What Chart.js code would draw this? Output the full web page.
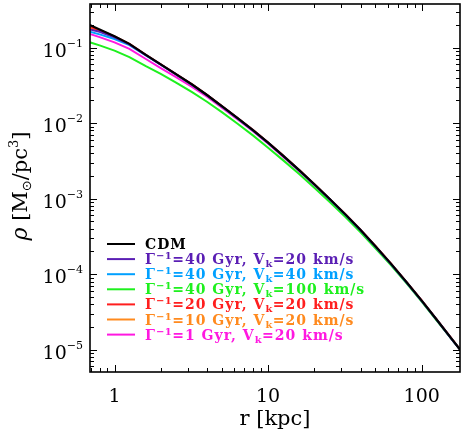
<!DOCTYPE html>
<html><head><meta charset="utf-8">
<script src="https://cdn.jsdelivr.net/npm/chart.js@4/dist/chart.umd.min.js"></script>
<style>html,body{margin:0;padding:0;background:#fff}#wrap{width:463px;height:436px}</style>
</head><body><div id="wrap"><canvas id="c" width="463" height="436"></canvas></div>
<script>
// radius grid [kpc]
const radii = [0.69, 0.8, 1, 1.25, 1.6, 2, 2.5, 3.2, 4, 5, 6.3, 8, 10, 12.5, 16, 20, 25, 32, 40, 50, 63, 80, 100, 125, 160, 178];
// density [Msun/pc^3]
const rhoCDM     = [0.200, 0.1738, 0.1413, 0.1122, 0.0804, 0.0600, 0.0449, 0.0325, 0.0236, 0.0168, 0.01175, 0.00804, 0.00552, 0.00372, 0.00237, 0.00155, 1.005e-3, 6.14e-4, 3.85e-4, 2.34e-4, 1.38e-4, 7.76e-5, 4.47e-5, 2.51e-5, 1.32e-5, 1.0e-5];
const rhoG40V20  = [0.174, 0.162, 0.137, 0.1105, 0.0797, 0.0596, 0.0446, 0.0323, 0.0235, 0.0167, 0.0117, 0.0080, 0.0055, 0.00370, 0.00236, 0.00154, 1.0e-3, 6.11e-4, 3.83e-4, 2.33e-4, 1.37e-4, 7.72e-5, 4.45e-5, 2.50e-5, 1.31e-5, 1.0e-5];
const rhoG40V40  = [0.163, 0.150, 0.130, 0.1083, 0.0792, 0.0594, 0.0445, 0.0322, 0.0234, 0.01665, 0.01165, 0.00797, 0.00547, 0.00369, 0.00235, 0.00154, 9.97e-4, 6.09e-4, 3.82e-4, 2.32e-4, 1.37e-4, 7.70e-5, 4.44e-5, 2.50e-5, 1.31e-5, 1.0e-5];
const rhoG40V100 = [0.1178, 0.1072, 0.0913, 0.0750, 0.0569, 0.0450, 0.0348, 0.0258, 0.0192, 0.0140, 0.00988, 0.00684, 0.00474, 0.00324, 0.00211, 0.00140, 9.17e-4, 5.67e-4, 3.59e-4, 2.21e-4, 1.32e-4, 7.5e-5, 4.35e-5, 2.45e-5, 1.31e-5, 1.0e-5];
const rhoG20V20  = [0.190, 0.170, 0.1405, 0.1122, 0.0806, 0.0603, 0.0451, 0.0327, 0.0238, 0.0169, 0.0118, 0.00810, 0.00556, 0.00375, 0.00239, 0.00156, 1.01e-3, 6.18e-4, 3.88e-4, 2.36e-4, 1.39e-4, 7.80e-5, 4.50e-5, 2.53e-5, 1.33e-5, 1.0e-5];
const rhoG10V20  = [0.180, 0.166, 0.139, 0.1115, 0.0800, 0.0598, 0.0447, 0.0324, 0.0235, 0.0167, 0.0117, 0.0080, 0.0055, 0.00371, 0.00236, 0.00155, 1.0e-3, 6.12e-4, 3.84e-4, 2.33e-4, 1.375e-4, 7.74e-5, 4.46e-5, 2.50e-5, 1.32e-5, 1.0e-5];
const rhoG1V20   = [0.1518, 0.1380, 0.1176, 0.0966, 0.0708, 0.0537, 0.0409, 0.0303, 0.0224, 0.0160, 0.01127, 0.00775, 0.00533, 0.00359, 0.00229, 0.00150, 9.78e-4, 6.0e-4, 3.76e-4, 2.30e-4, 1.365e-4, 7.69e-5, 4.44e-5, 2.51e-5, 1.32e-5, 1.0e-5];

const seriesValues = [rhoCDM, rhoG40V20, rhoG40V40, rhoG40V100, rhoG20V20, rhoG10V20, rhoG1V20];
const gammaInv = [null, '40', '40', '40', '20', '10', '1'];
const vKick    = [null, '20', '40', '100', '20', '20', '20'];
const colors   = ['#000000', '#5a1eb4', '#00a0ff', '#1ef01e', '#ff1e1e', '#ff8a1e', '#ff18e0'];
const xTickValues = [1, 10, 100];
const xTickLabels = ['1', '10', '100'];
const yTickExponents = [-1, -2, -3, -4, -5];
const xTitle = 'r [kpc]';

const SERIF = '"DejaVu Serif"';

function drawRich(ctx, x, y, parts, align) {
  let total = 0;
  for (const p of parts) { ctx.font = p.f; ctx.letterSpacing = p.ls || '0px'; total += ctx.measureText(p.t).width; }
  let cx = align === 'right' ? x - total : align === 'center' ? x - total / 2 : x;
  for (const p of parts) {
    ctx.font = p.f;
    ctx.letterSpacing = p.ls || '0px';
    ctx.fillText(p.t, cx, y + (p.dy || 0));
    cx += ctx.measureText(p.t).width;
  }
  ctx.letterSpacing = '0px';
}

const framePlugin = {
  id: 'frame',
  afterDraw(chart) {
    const { ctx, chartArea: a, scales: { x, y } } = chart;
    ctx.save();
    ctx.strokeStyle = '#000';
    ctx.fillStyle = '#000';
    // ticks
    ctx.lineWidth = 1;
    ctx.beginPath();
    for (let d = -1; d <= 2; d++) for (let m = 1; m <= 9; m++) {
      const v = m * Math.pow(10, d);
      if (v < x.min || v > x.max) continue;
      const px = Math.round(x.getPixelForValue(v)) + 0.5;
      const L = m === 1 ? 7 : 4;
      ctx.moveTo(px, a.bottom); ctx.lineTo(px, a.bottom - L);
      ctx.moveTo(px, a.top); ctx.lineTo(px, a.top + L);
    }
    for (let d = -6; d <= 0; d++) for (let m = 1; m <= 9; m++) {
      const v = m * Math.pow(10, d);
      if (v < y.min || v > y.max) continue;
      const py = Math.round(y.getPixelForValue(v)) + 0.5;
      const L = m === 1 ? 7 : 4;
      ctx.moveTo(a.left, py); ctx.lineTo(a.left + L, py);
      ctx.moveTo(a.right, py); ctx.lineTo(a.right - L, py);
    }
    ctx.stroke();
    ctx.lineWidth = 1.6;
    ctx.strokeRect(a.left, a.top, a.right - a.left, a.bottom - a.top);

    // x tick labels
    ctx.textBaseline = 'alphabetic';
    ctx.font = '19px ' + SERIF;
    ctx.textAlign = 'center';
    xTickValues.forEach((v, i) => ctx.fillText(xTickLabels[i], x.getPixelForValue(v), 402));
    ctx.textAlign = 'left';
    // y tick labels
    yTickExponents.forEach(e => {
      const py = y.getPixelForValue(Math.pow(10, e));
      drawRich(ctx, 83, py + 9, [
        { t: '10', f: '19px ' + SERIF },
        { t: '\u2212' + (-e), f: '11px ' + SERIF, dy: -10 }
      ], 'right');
    });
    // x title
    drawRich(ctx, (a.left + a.right) / 2, 425, [{ t: xTitle, f: '21px ' + SERIF }], 'center');
    // y title
    ctx.save();
    ctx.translate(27, 186);
    ctx.rotate(-Math.PI / 2);
    drawRich(ctx, 0, 0, [
      { t: '\u03C1', f: 'italic 22px ' + SERIF },
      { t: ' [M', f: '21px ' + SERIF },
      { t: '\u2299', f: '13px "DejaVu Sans"', dy: 4 },
      { t: '/pc', f: '21px ' + SERIF },
      { t: '3', f: '13px ' + SERIF, dy: -9 },
      { t: ']', f: '21px ' + SERIF }
    ], 'center');
    ctx.restore();

    // legend
    const big = 'bold 14px ' + SERIF, small = 'bold 10px ' + SERIF;
    seriesValues.forEach((_, i) => {
      const ly = 244 + i * 15.1;
      ctx.strokeStyle = colors[i];
      ctx.fillStyle = colors[i];
      ctx.lineWidth = 2;
      ctx.beginPath(); ctx.moveTo(107, ly); ctx.lineTo(135, ly); ctx.stroke();
      const parts = gammaInv[i] === null ? [{ t: 'CDM', f: big, ls: '1px' }] : [
        { t: '\u0393', f: big, ls: '1px' },
        { t: '\u22121', f: small, dy: -5, ls: '0.5px' },
        { t: '=' + gammaInv[i] + ' Gyr, V', f: big, ls: '1px' },
        { t: 'k', f: small, dy: 3, ls: '0.5px' },
        { t: '=' + vKick[i] + ' km/s', f: big, ls: '1px' }
      ];
      drawRich(ctx, 145, ly + 5, parts, 'left');
    });
    ctx.restore();
  }
};

const datasets = seriesValues.map((vals, i) => ({
  data: radii.map((r, k) => ({ x: r, y: vals[k] })),
  borderColor: colors[i],
  borderWidth: i === 0 ? 2.2 : 2,
  pointRadius: 0,
  fill: false,
  tension: 0
}));

new Chart(document.getElementById('c'), {
  type: 'line',
  data: { datasets },
  options: {
    responsive: false,
    animation: false,
    devicePixelRatio: 1,
    layout: { padding: { left: 90, top: 4, right: 3, bottom: 64 } },
    plugins: { legend: { display: false }, tooltip: { enabled: false } },
    scales: {
      x: { type: 'logarithmic', min: 0.6926, max: 177.6, display: false },
      y: { type: 'logarithmic', min: 5.07e-6, max: 0.3785, display: false }
    }
  },
  plugins: [framePlugin]
});
</script>
</body></html>
